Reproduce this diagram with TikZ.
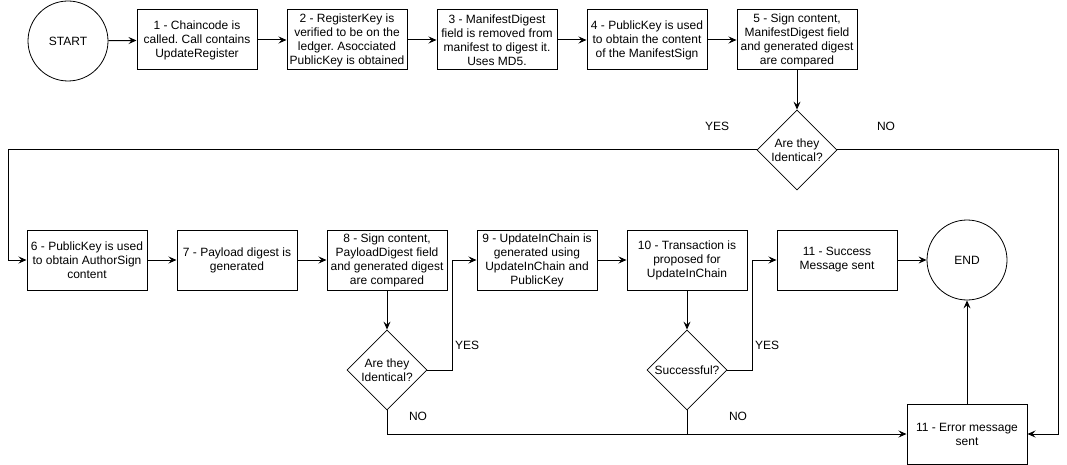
\documentclass[tikz,border=0pt]{standalone}
\usepackage{fontspec}
\setmainfont{Liberation Sans}
\usetikzlibrary{shapes.geometric, arrows.meta}
\frenchspacing

\begin{document}
\begin{tikzpicture}[x=1pt, y=-1pt,
    every node/.style={font=\fontsize{12}{14}\selectfont},
    stepbox/.style={rectangle, draw, line width=1pt, minimum width=120pt, minimum height=60pt, inner sep=1pt, align=center},
    terminal/.style={circle, draw, line width=0.8pt, minimum size=80pt, inner sep=0pt},
    decision/.style={diamond, draw, line width=0.8pt, minimum width=80pt, minimum height=80pt, inner sep=0pt, align=center},
    flow/.style={line width=1pt, -{Stealth[length=8pt, width=7pt, inset=3pt]}},
    plain/.style={line width=1pt}]
  \useasboundingbox (0,0) rectangle (1067,465);

  % Top row
  \node[terminal] (start) at (68, 41) {START};
  \node[stepbox] (s1) at (197, 40) {1 - Chaincode is\\called. Call contains\\UpdateRegister};
  \node[stepbox] (s2) at (347, 40) {2 - RegisterKey is\\verified to be on the\\ledger. Asocciated\\PublicKey is obtained};
  \node[stepbox] (s3) at (497, 40) {3 - ManifestDigest\\field is removed from\\manifest to digest it.\\Uses MD5.};
  \node[stepbox] (s4) at (647, 40) {4 - PublicKey is used\\to obtain the content\\of the ManifestSign};
  \node[stepbox] (s5) at (797, 40) {5 - Sign content,\\ManifestDigest field\\and generated digest\\are compared};
  \node[decision] (check1) at (797, 150) {Are they\\Identical?};

  % Bottom row
  \node[stepbox] (s6) at (87, 260) {6 - PublicKey is used\\to obtain AuthorSign\\content};
  \node[stepbox] (s7) at (237, 260) {7 - Payload digest is\\generated};
  \node[stepbox] (s8) at (387, 260) {8 - Sign content,\\PayloadDigest field\\and generated digest\\are compared};
  \node[stepbox] (s9) at (537, 260) {9 - UpdateInChain is\\generated using\\UpdateInChain and\\PublicKey};
  \node[stepbox] (s10) at (687, 260) {10 - Transaction is\\proposed for\\UpdateInChain};
  \node[stepbox] (s11) at (837, 260) {11 - Success\\Message sent};
  \node[terminal] (finish) at (967, 260) {END};
  \node[decision] (check2) at (387, 370) {Are they\\Identical?};
  \node[decision] (check3) at (687, 370) {Successful?};
  \node[stepbox] (err) at (967, 434) {11 - Error message\\sent};

  % Turning points
  \coordinate (leftturn) at (8, 150);
  \coordinate (rightturn) at (1058, 150);
  \coordinate (yesturn2) at (452, 370);
  \coordinate (yesturn3) at (752, 370);

  % Connectors
  \draw[flow] (start) -- (s1);
  \draw[flow] (s1) -- (s2);
  \draw[flow] (s2) -- (s3);
  \draw[flow] (s3) -- (s4);
  \draw[flow] (s4) -- (s5);
  \draw[flow] (s5) -- (check1);
  \draw[flow] (check1.west) -- (leftturn) |- (s6.west);
  \draw[flow] (check1.east) -- (rightturn) |- (err.east);
  \draw[flow] (s6) -- (s7);
  \draw[flow] (s7) -- (s8);
  \draw[flow] (s8) -- (check2);
  \draw[flow] (check2.east) -- (yesturn2) |- (s9.west);
  \draw[flow] (check2.south) |- (err.west);
  \draw[flow] (s9) -- (s10);
  \draw[flow] (s10) -- (check3);
  \draw[flow] (check3.east) -- (yesturn3) |- (s11.west);
  \draw[plain] (check3.south) -- (check3.south |- err.west);
  \draw[flow] (s11) -- (finish);
  \draw[flow] (err) -- (finish);

  % Labels
  \node (yes1) at (717, 126) {YES};
  \node (no1) at (886, 126) {NO};
  \node (yes2) at (467, 345) {YES};
  \node (no2) at (418, 416) {NO};
  \node (yes3) at (767, 345) {YES};
  \node (no3) at (738, 416) {NO};
\end{tikzpicture}
\end{document}
